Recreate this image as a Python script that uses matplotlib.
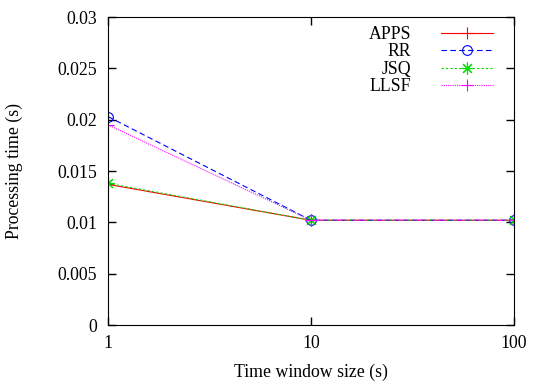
import matplotlib
matplotlib.use("Agg")
import matplotlib.pyplot as plt
from matplotlib.ticker import FixedLocator, NullLocator

plt.rcParams["font.family"] = ["Liberation Serif", "DejaVu Serif"]
plt.rcParams["font.size"] = 12.8

window = [1, 10, 100]
apps = [0.0137, 0.0102, 0.0102]
rr = [0.0203, 0.0102, 0.0102]
jsq = [0.0138, 0.0102, 0.0102]
llsf = [0.0195, 0.0102, 0.0102]

fig = plt.figure(figsize=(5.45, 3.81), dpi=100)
ax = fig.add_axes([108 / 545, 1 - 325 / 381, 406 / 545, 308 / 381])

ax.plot(window, apps, color="#ff0000", lw=0.8, ls="-", marker="+", ms=9, mew=0.8, label="APPS")
ax.plot(window, rr, color="#0000ff", lw=0.8, ls=(0, (5, 3)), marker="o", ms=7, mfc="none", mew=0.8, label="RR")
ax.plot(window, jsq, color="#00dd00", lw=0.8, ls=(0, (2, 2)), marker=(8, 2, 0), ms=9, mew=0.8, label="JSQ")
ax.plot(window, llsf, color="#ff00ff", lw=0.8, ls=(0, (1, 1)), marker="+", ms=9, mew=0.8, label="LLSF")

ax.set_xscale("log")
ax.set_xlim(1, 100)
ax.set_ylim(0, 0.03)
ax.xaxis.set_major_locator(FixedLocator([1, 10, 100]))
ax.xaxis.set_minor_locator(NullLocator())
ax.set_xticklabels(["1", "10", "100"])
ax.set_yticks([0, 0.005, 0.01, 0.015, 0.02, 0.025, 0.03])
ax.set_yticklabels(["0", "0.005", "0.01", "0.015", "0.02", "0.025", "0.03"])
ax.tick_params(direction="in", top=True, right=True, length=6, width=1)
ax.tick_params(axis="y", pad=8)
ax.tick_params(axis="x", pad=7)

ax.set_xlabel("Time window size (s)")
ax.set_ylabel("Processing time (s)")
ax.xaxis.set_label_coords(0.5, -0.125)
ax.yaxis.set_label_coords(-0.21, 0.5)

ax.legend(loc="upper right", frameon=False, markerfirst=False, handlelength=2.9,
          bbox_to_anchor=(0.97, 1.0), borderaxespad=0.1, labelspacing=0.03,
          handletextpad=1.7)

fig.savefig("out.png", dpi=100)
